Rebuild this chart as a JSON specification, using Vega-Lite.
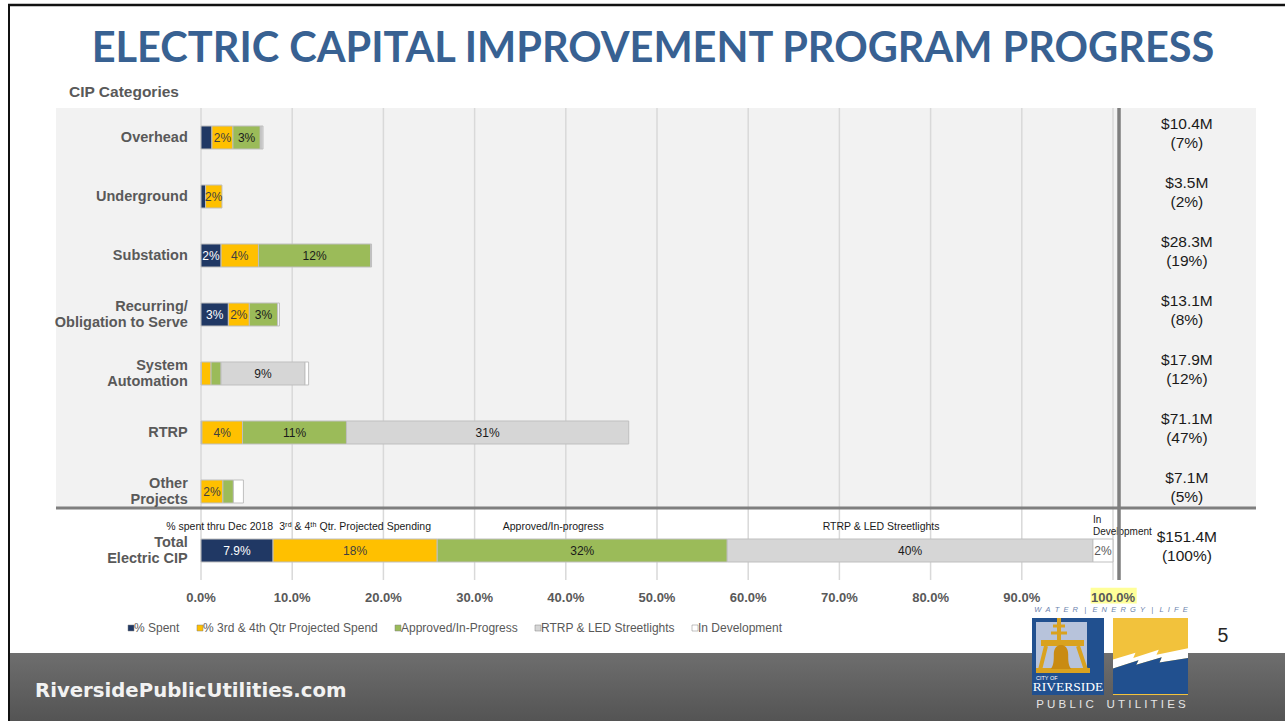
{
  "$schema": "https://vega.github.io/schema/vega-lite/v6.json",
  "width": 1285,
  "height": 472,
  "autosize": {"type": "none"},
  "padding": {"left": 0, "top": 108, "right": 0, "bottom": 141},
  "background": "white",
  "config": {"view": {"stroke": null}, "font": "Liberation Sans"},
  "datasets": {
    "bars": [
      {"cat": "Overhead", "seg": "% Spent", "v": 1.2, "k": 1, "lbl": "", "note": ""},
      {"cat": "Overhead", "seg": "% 3rd & 4th Qtr Projected Spend", "v": 2.3, "k": 2, "lbl": "2%", "note": ""},
      {"cat": "Overhead", "seg": "Approved/In-Progress", "v": 3.0, "k": 3, "lbl": "3%", "note": ""},
      {"cat": "Overhead", "seg": "RTRP & LED Streetlights", "v": 0.2, "k": 4, "lbl": "", "note": ""},
      {"cat": "Overhead", "seg": "In Development", "v": 0.1, "k": 5, "lbl": "", "note": ""},
      {"cat": "Underground", "seg": "% Spent", "v": 0.5, "k": 1, "lbl": "", "note": ""},
      {"cat": "Underground", "seg": "% 3rd & 4th Qtr Projected Spend", "v": 1.8, "k": 2, "lbl": "2%", "note": ""},
      {"cat": "Substation", "seg": "% Spent", "v": 2.2, "k": 1, "lbl": "2%", "note": ""},
      {"cat": "Substation", "seg": "% 3rd & 4th Qtr Projected Spend", "v": 4.1, "k": 2, "lbl": "4%", "note": ""},
      {"cat": "Substation", "seg": "Approved/In-Progress", "v": 12.3, "k": 3, "lbl": "12%", "note": ""},
      {"cat": "Substation", "seg": "RTRP & LED Streetlights", "v": 0.1, "k": 4, "lbl": "", "note": ""},
      {"cat": "Recurring/\nObligation to Serve", "seg": "% Spent", "v": 3.0, "k": 1, "lbl": "3%", "note": ""},
      {"cat": "Recurring/\nObligation to Serve", "seg": "% 3rd & 4th Qtr Projected Spend", "v": 2.3, "k": 2, "lbl": "2%", "note": ""},
      {"cat": "Recurring/\nObligation to Serve", "seg": "Approved/In-Progress", "v": 3.1, "k": 3, "lbl": "3%", "note": ""},
      {"cat": "Recurring/\nObligation to Serve", "seg": "In Development", "v": 0.2, "k": 5, "lbl": "", "note": ""},
      {"cat": "System\nAutomation", "seg": "% Spent", "v": 0.05, "k": 1, "lbl": "", "note": ""},
      {"cat": "System\nAutomation", "seg": "% 3rd & 4th Qtr Projected Spend", "v": 1.05, "k": 2, "lbl": "", "note": ""},
      {"cat": "System\nAutomation", "seg": "Approved/In-Progress", "v": 1.1, "k": 3, "lbl": "", "note": ""},
      {"cat": "System\nAutomation", "seg": "RTRP & LED Streetlights", "v": 9.2, "k": 4, "lbl": "9%", "note": ""},
      {"cat": "System\nAutomation", "seg": "In Development", "v": 0.4, "k": 5, "lbl": "", "note": ""},
      {"cat": "RTRP", "seg": "% Spent", "v": 0.1, "k": 1, "lbl": "", "note": ""},
      {"cat": "RTRP", "seg": "% 3rd & 4th Qtr Projected Spend", "v": 4.45, "k": 2, "lbl": "4%", "note": ""},
      {"cat": "RTRP", "seg": "Approved/In-Progress", "v": 11.4, "k": 3, "lbl": "11%", "note": ""},
      {"cat": "RTRP", "seg": "RTRP & LED Streetlights", "v": 30.95, "k": 4, "lbl": "31%", "note": ""},
      {"cat": "Other\nProjects", "seg": "% 3rd & 4th Qtr Projected Spend", "v": 2.4, "k": 2, "lbl": "2%", "note": ""},
      {"cat": "Other\nProjects", "seg": "Approved/In-Progress", "v": 1.15, "k": 3, "lbl": "", "note": ""},
      {"cat": "Other\nProjects", "seg": "In Development", "v": 1.1, "k": 5, "lbl": "", "note": ""},
      {"cat": "Total\nElectric CIP", "seg": "% Spent", "v": 7.9, "k": 1, "lbl": "7.9%", "note": "% spent thru Dec 2018"},
      {"cat": "Total\nElectric CIP", "seg": "% 3rd & 4th Qtr Projected Spend", "v": 18.0, "k": 2, "lbl": "18%", "note": "3ʳᵈ & 4ᵗʰ Qtr. Projected Spending"},
      {"cat": "Total\nElectric CIP", "seg": "Approved/In-Progress", "v": 31.8, "k": 3, "lbl": "32%", "note": "Approved/In-progress"},
      {"cat": "Total\nElectric CIP", "seg": "RTRP & LED Streetlights", "v": 40.1, "k": 4, "lbl": "40%", "note": "RTRP & LED Streetlights"},
      {"cat": "Total\nElectric CIP", "seg": "In Development", "v": 2.2, "k": 5, "lbl": "2%", "note": "In\nDevelopment"}
    ],
    "rows": [
      {"cat": "Overhead", "amt": "$10.4M\n(7%)"},
      {"cat": "Underground", "amt": "$3.5M\n(2%)"},
      {"cat": "Substation", "amt": "$28.3M\n(19%)"},
      {"cat": "Recurring/\nObligation to Serve", "amt": "$13.1M\n(8%)"},
      {"cat": "System\nAutomation", "amt": "$17.9M\n(12%)"},
      {"cat": "RTRP", "amt": "$71.1M\n(47%)"},
      {"cat": "Other\nProjects", "amt": "$7.1M\n(5%)"},
      {"cat": "Total\nElectric CIP", "amt": "$151.4M\n(100%)"}
    ],
    "ticks": [
      {"t": 0, "lab": "0.0%"}, {"t": 10, "lab": "10.0%"}, {"t": 20, "lab": "20.0%"}, {"t": 30, "lab": "30.0%"},
      {"t": 40, "lab": "40.0%"}, {"t": 50, "lab": "50.0%"}, {"t": 60, "lab": "60.0%"}, {"t": 70, "lab": "70.0%"},
      {"t": 80, "lab": "80.0%"}, {"t": 90, "lab": "90.0%"}, {"t": 100, "lab": "100.0%"}
    ]
  },
  "resolve": {"scale": {"x": "independent", "y": "independent"}},
  "layer": [
    {
      "layer": [
        {
          "data": {"values": [{}]},
          "mark": {"type": "rect", "fill": "#f2f2f2"},
          "encoding": {
            "x": {"datum": -15.9, "type": "quantitative", "scale": {"domain": [-22.04, 118.86], "nice": false, "zero": false}, "axis": null},
            "x2": {"datum": 115.68},
            "y": {"datum": "Overhead", "type": "nominal", "bandPosition": 0, "scale": {"type": "band", "domain": ["Overhead", "Underground", "Substation", "Recurring/\nObligation to Serve", "System\nAutomation", "RTRP", "Other\nProjects", "Total\nElectric CIP"], "paddingInner": 0, "paddingOuter": 0}, "axis": null},
            "y2": {"datum": "Other\nProjects", "bandPosition": 0.78}
          }
        },
        {
          "data": {"values": [{}]},
          "mark": {"type": "rect", "fill": "#ffff99"},
          "encoding": {
            "x": {"datum": 97.55, "type": "quantitative", "axis": null},
            "x2": {"datum": 102.6},
            "y": {"datum": "Total\nElectric CIP", "type": "nominal", "bandPosition": 1.13, "axis": null},
            "y2": {"datum": "Total\nElectric CIP", "bandPosition": 1.4}
          }
        },
        {
          "data": {"name": "ticks"},
          "mark": {"type": "rule", "color": "#d9d9d9", "strokeWidth": 1.5},
          "encoding": {
            "x": {"field": "t", "type": "quantitative", "axis": null}
          }
        },
        {
          "data": {"name": "ticks"},
          "mark": {"type": "text", "fontSize": 13, "fontWeight": "bold", "color": "#595959", "align": "center", "baseline": "middle"},
          "encoding": {
            "x": {"field": "t", "type": "quantitative", "axis": null},
            "y": {"datum": "Total\nElectric CIP", "type": "nominal", "bandPosition": 1.297, "axis": null},
            "text": {"field": "lab"}
          }
        },
        {
          "data": {"name": "bars"},
          "mark": {"type": "bar", "size": 23, "stroke": "#bfbfbf", "strokeWidth": 1},
          "encoding": {
            "y": {"field": "cat", "type": "nominal", "axis": null},
            "x": {"field": "v", "type": "quantitative", "stack": "zero", "axis": null},
            "color": {"field": "seg", "type": "nominal",
              "scale": {"domain": ["% Spent", "% 3rd & 4th Qtr Projected Spend", "Approved/In-Progress", "RTRP & LED Streetlights", "In Development"], "range": ["#203864", "#ffc000", "#9bbb59", "#d6d6d6", "#ffffff"]},
              "legend": {"orient": "none", "legendX": 125, "legendY": 514, "direction": "horizontal", "columns": 5, "title": null, "symbolType": "square", "symbolSize": 36, "symbolStrokeColor": "#808080", "symbolStrokeWidth": 0.5, "labelFontSize": 12, "labelColor": "#595959", "labelFont": "Liberation Sans", "labelOffset": -3, "labelLimit": 400, "columnPadding": 14}},
            "order": {"field": "k", "type": "quantitative"}
          }
        },
        {
          "data": {"name": "bars"},
          "mark": {"type": "text", "fontSize": 12, "baseline": "middle", "align": "center"},
          "encoding": {
            "y": {"field": "cat", "type": "nominal", "axis": null},
            "x": {"field": "v", "type": "quantitative", "stack": "zero", "bandPosition": 0.5, "axis": null},
            "detail": {"field": "seg"},
            "order": {"field": "k", "type": "quantitative"},
            "text": {"field": "lbl"},
            "color": {"condition": [{"test": "datum.seg === '% Spent'", "value": "#ffffff"}, {"test": "datum.seg === '% 3rd & 4th Qtr Projected Spend'", "value": "#404040"}, {"test": "datum.seg === 'In Development'", "value": "#595959"}], "value": "#1a1a1a"}
          }
        },
        {
          "data": {"name": "bars"},
          "mark": {"type": "text", "fontSize": 10.5, "baseline": "middle", "align": "right", "dy": -24, "color": "#1a1a1a"},
          "encoding": {
            "y": {"field": "cat", "type": "nominal", "axis": null},
            "x": {"field": "v", "type": "quantitative", "stack": "zero", "bandPosition": 1, "axis": null},
            "detail": {"field": "seg"},
            "order": {"field": "k", "type": "quantitative"},
            "text": {"condition": {"test": "datum.k !== 1", "value": ""}, "field": "note"}
          }
        },
        {
          "data": {"name": "bars"},
          "mark": {"type": "text", "fontSize": 10.5, "baseline": "middle", "align": "center", "dy": -24, "color": "#1a1a1a"},
          "encoding": {
            "y": {"field": "cat", "type": "nominal", "axis": null},
            "x": {"field": "v", "type": "quantitative", "stack": "zero", "bandPosition": 0.5, "axis": null},
            "detail": {"field": "seg"},
            "order": {"field": "k", "type": "quantitative"},
            "text": {"condition": {"test": "datum.k !== 2", "value": ""}, "field": "note"}
          }
        },
        {
          "data": {"name": "bars"},
          "mark": {"type": "text", "fontSize": 10.5, "baseline": "middle", "align": "center", "dy": -24, "dx": -29, "color": "#1a1a1a"},
          "encoding": {
            "y": {"field": "cat", "type": "nominal", "axis": null},
            "x": {"field": "v", "type": "quantitative", "stack": "zero", "bandPosition": 0.5, "axis": null},
            "detail": {"field": "seg"},
            "order": {"field": "k", "type": "quantitative"},
            "text": {"condition": {"test": "datum.k !== 3 && datum.k !== 4", "value": ""}, "field": "note"}
          }
        },
        {
          "data": {"name": "bars"},
          "mark": {"type": "text", "fontSize": 10, "baseline": "middle", "align": "left", "dy": -31, "lineBreak": "\n", "lineHeight": 12, "color": "#1a1a1a"},
          "encoding": {
            "y": {"field": "cat", "type": "nominal", "axis": null},
            "x": {"field": "v", "type": "quantitative", "stack": "zero", "bandPosition": 0, "axis": null},
            "detail": {"field": "seg"},
            "order": {"field": "k", "type": "quantitative"},
            "text": {"condition": {"test": "datum.k !== 5", "value": ""}, "field": "note"}
          }
        },
        {
          "data": {"values": [{}]},
          "mark": {"type": "rule", "color": "#7f7f7f", "strokeWidth": 3},
          "encoding": {
            "x": {"datum": -15.9, "type": "quantitative", "axis": null},
            "x2": {"datum": 115.68},
            "y": {"datum": "Other\nProjects", "type": "nominal", "bandPosition": 0.78, "axis": null}
          }
        },
        {
          "data": {"values": [{}]},
          "mark": {"type": "rule", "color": "#7f7f7f", "strokeWidth": 3.5},
          "encoding": {
            "x": {"datum": 100.66, "type": "quantitative", "axis": null}
          }
        },
        {
          "data": {"name": "rows"},
          "transform": [{"filter": "indexof(datum.cat, '\\n') < 0"}],
          "mark": {"type": "text", "align": "right", "baseline": "middle", "fontSize": 14.5, "fontWeight": "bold", "color": "#595959"},
          "encoding": {
            "x": {"datum": -1.45, "type": "quantitative", "axis": null},
            "y": {"field": "cat", "type": "nominal", "axis": null},
            "text": {"field": "cat"}
          }
        },
        {
          "data": {"name": "rows"},
          "transform": [{"filter": "indexof(datum.cat, '\\n') >= 0"}],
          "mark": {"type": "text", "align": "right", "baseline": "middle", "fontSize": 14.5, "fontWeight": "bold", "color": "#595959", "lineBreak": "\n", "lineHeight": 16, "dy": -8},
          "encoding": {
            "x": {"datum": -1.45, "type": "quantitative", "axis": null},
            "y": {"field": "cat", "type": "nominal", "axis": null},
            "text": {"field": "cat"}
          }
        },
        {
          "data": {"name": "rows"},
          "mark": {"type": "text", "align": "center", "baseline": "middle", "fontSize": 15.5, "color": "#1a1a1a", "lineBreak": "\n", "lineHeight": 19.5, "dy": -14},
          "encoding": {
            "x": {"datum": 108.1, "type": "quantitative", "axis": null},
            "y": {"field": "cat", "type": "nominal", "axis": null},
            "text": {"field": "amt"}
          }
        },
        {
          "data": {"values": [{}]},
          "mark": {"type": "text", "align": "left", "baseline": "middle", "fontSize": 15.5, "fontWeight": "bold", "color": "#595959", "text": "CIP Categories"},
          "encoding": {
            "x": {"datum": -14.48, "type": "quantitative", "axis": null},
            "y": {"datum": "Overhead", "type": "nominal", "bandPosition": -0.263, "axis": null}
          }
        }
      ]
    },
    {
      "data": {"values": [{}]},
      "layer": [
        {
          "mark": {"type": "rect", "fill": {"gradient": "linear", "x1": 0, "y1": 0, "x2": 0, "y2": 1, "stops": [{"offset": 0, "color": "#6e6e6e"}, {"offset": 1, "color": "#545454"}]}},
          "encoding": {
            "x": {"datum": 10, "type": "quantitative", "scale": {"domain": [0, 1285], "nice": false, "zero": false}, "axis": null},
            "x2": {"datum": 1285},
            "y": {"datum": 653, "type": "quantitative", "scale": {"domain": [108, 580], "nice": false, "zero": false, "reverse": true}, "axis": null},
            "y2": {"datum": 721}
          }
        },
        {
          "mark": {"type": "text", "text": "ELECTRIC CAPITAL IMPROVEMENT PROGRAM PROGRESS", "font": "Lato", "fontSize": 41.5, "fontWeight": "bold", "color": "#386192", "align": "center", "baseline": "alphabetic"},
          "encoding": {"x": {"datum": 653, "type": "quantitative", "axis": null}, "y": {"datum": 62, "type": "quantitative", "axis": null}}
        },
        {
          "mark": {"type": "text", "text": "RiversidePublicUtilities.com", "font": "DejaVu Sans", "fontWeight": "bold", "fontSize": 19.7, "color": "#f2f2f2", "align": "left", "baseline": "alphabetic"},
          "encoding": {"x": {"datum": 35, "type": "quantitative", "axis": null}, "y": {"datum": 697, "type": "quantitative", "axis": null}}
        },
        {
          "mark": {"type": "rule", "color": "#111111", "strokeWidth": 2.5},
          "encoding": {"x": {"datum": 8, "type": "quantitative", "axis": null}, "x2": {"datum": 1285}, "y": {"datum": 5, "type": "quantitative", "axis": null}}
        },
        {
          "mark": {"type": "rule", "color": "#111111", "strokeWidth": 2},
          "encoding": {"x": {"datum": 9, "type": "quantitative", "axis": null}, "y": {"datum": 5, "type": "quantitative", "axis": null}, "y2": {"datum": 721}}
        },
        {
          "mark": {"type": "text", "text": "5", "fontSize": 19.5, "color": "#262626", "align": "center", "baseline": "middle"},
          "encoding": {"x": {"datum": 1223, "type": "quantitative", "axis": null}, "y": {"datum": 636, "type": "quantitative", "axis": null}}
        },
        {
          "mark": {"type": "text", "text": "W\u00a0\u00a0A\u00a0\u00a0T\u00a0\u00a0E\u00a0\u00a0R\u00a0\u00a0\u00a0|\u00a0\u00a0\u00a0E\u00a0\u00a0N\u00a0\u00a0E\u00a0\u00a0R\u00a0\u00a0G\u00a0\u00a0Y\u00a0\u00a0\u00a0|\u00a0\u00a0\u00a0L\u00a0\u00a0I\u00a0\u00a0F\u00a0\u00a0E", "fontSize": 7.5, "fontStyle": "italic", "color": "#6c83ad", "align": "center", "baseline": "middle"},
          "encoding": {"x": {"datum": 1111, "type": "quantitative", "axis": null}, "y": {"datum": 610, "type": "quantitative", "axis": null}}
        },
        {
          "mark": {"type": "rect", "fill": "#21508f"},
          "encoding": {"x": {"datum": 1032, "type": "quantitative", "axis": null}, "x2": {"datum": 1104}, "y": {"datum": 618, "type": "quantitative", "axis": null}, "y2": {"datum": 695}}
        },
        {
          "mark": {"type": "rect", "fill": "#b7c3db"},
          "encoding": {"x": {"datum": 1036, "type": "quantitative", "axis": null}, "x2": {"datum": 1087}, "y": {"datum": 622, "type": "quantitative", "axis": null}, "y2": {"datum": 672}}
        },
        {
          "mark": {"type": "rule", "color": "#d9a21f", "strokeWidth": 4},
          "encoding": {"x": {"datum": 1059, "type": "quantitative", "axis": null}, "y": {"datum": 618, "type": "quantitative", "axis": null}, "y2": {"datum": 641}}
        },
        {
          "mark": {"type": "rule", "color": "#d9a21f", "strokeWidth": 3},
          "encoding": {"x": {"datum": 1053, "type": "quantitative", "axis": null}, "x2": {"datum": 1065}, "y": {"datum": 626, "type": "quantitative", "axis": null}}
        },
        {
          "mark": {"type": "rule", "color": "#d9a21f", "strokeWidth": 3},
          "encoding": {"x": {"datum": 1051, "type": "quantitative", "axis": null}, "x2": {"datum": 1067}, "y": {"datum": 633, "type": "quantitative", "axis": null}}
        },
        {
          "mark": {"type": "rect", "fill": "#d9a21f"},
          "encoding": {"x": {"datum": 1041, "type": "quantitative", "axis": null}, "x2": {"datum": 1084}, "y": {"datum": 640, "type": "quantitative", "axis": null}, "y2": {"datum": 646}}
        },
        {
          "mark": {"type": "rule", "color": "#d9a21f", "strokeWidth": 4},
          "encoding": {"x": {"datum": 1046, "type": "quantitative", "axis": null}, "x2": {"datum": 1040}, "y": {"datum": 646, "type": "quantitative", "axis": null}, "y2": {"datum": 670}}
        },
        {
          "mark": {"type": "rule", "color": "#d9a21f", "strokeWidth": 4},
          "encoding": {"x": {"datum": 1078, "type": "quantitative", "axis": null}, "x2": {"datum": 1086}, "y": {"datum": 646, "type": "quantitative", "axis": null}, "y2": {"datum": 670}}
        },
        {
          "mark": {"type": "rect", "fill": "#d9a21f"},
          "encoding": {"x": {"datum": 1036, "type": "quantitative", "axis": null}, "x2": {"datum": 1090}, "y": {"datum": 668, "type": "quantitative", "axis": null}, "y2": {"datum": 673}}
        },
        {
          "mark": {"type": "point", "shape": "M -0.85 1 C -0.6 0.7 -0.6 0.3 -0.6 -0.2 C -0.6 -0.8 -0.3 -1 0 -1 C 0.3 -1 0.6 -0.8 0.6 -0.2 C 0.6 0.3 0.6 0.7 0.85 1 Z", "filled": true, "fill": "#c98b12", "opacity": 1, "size": 576, "strokeWidth": 0},
          "encoding": {"x": {"datum": 1061, "type": "quantitative", "axis": null}, "y": {"datum": 657, "type": "quantitative", "axis": null}}
        },
        {
          "mark": {"type": "text", "text": "CITY OF", "fontSize": 5.5, "color": "#ffffff", "align": "left", "baseline": "middle"},
          "encoding": {"x": {"datum": 1036, "type": "quantitative", "axis": null}, "y": {"datum": 678, "type": "quantitative", "axis": null}}
        },
        {
          "mark": {"type": "text", "text": "RIVERSIDE", "font": "Liberation Serif", "fontSize": 13.5, "color": "#ffffff", "align": "center", "baseline": "middle"},
          "encoding": {"x": {"datum": 1068, "type": "quantitative", "axis": null}, "y": {"datum": 687, "type": "quantitative", "axis": null}}
        },
        {
          "mark": {"type": "rect", "fill": "#f2c23c"},
          "encoding": {"x": {"datum": 1113, "type": "quantitative", "axis": null}, "x2": {"datum": 1188}, "y": {"datum": 618, "type": "quantitative", "axis": null}, "y2": {"datum": 695}}
        },
        {
          "mark": {"type": "point", "shape": "M -1 0.08 L -0.4 -0.1 L -0.46 0.04 L 0.22 -0.18 L 0.16 -0.05 L 1 -0.22 L 1 0.04 L 0.24 0.16 L 0.3 0.02 L -0.38 0.22 L -0.32 0.1 L -1 0.32 Z", "filled": true, "fill": "#ffffff", "opacity": 1, "size": 5625, "strokeWidth": 0},
          "encoding": {"x": {"datum": 1150.5, "type": "quantitative", "axis": null}, "y": {"datum": 656.5, "type": "quantitative", "axis": null}}
        },
        {
          "mark": {"type": "point", "shape": "M -1 0.32 L -0.32 0.1 L -0.38 0.22 L 0.3 0.02 L 0.24 0.16 L 1 0.04 L 1 1 L -1 1 Z", "filled": true, "fill": "#21508f", "opacity": 1, "size": 5625, "strokeWidth": 0},
          "encoding": {"x": {"datum": 1150.5, "type": "quantitative", "axis": null}, "y": {"datum": 656.5, "type": "quantitative", "axis": null}}
        },
        {
          "mark": {"type": "text", "text": "P\u00a0U\u00a0B\u00a0L\u00a0I\u00a0C\u00a0\u00a0\u00a0\u00a0U\u00a0T\u00a0I\u00a0L\u00a0I\u00a0T\u00a0I\u00a0E\u00a0S", "fontSize": 11.5, "color": "#e6e6e6", "align": "center", "baseline": "middle"},
          "encoding": {"x": {"datum": 1111, "type": "quantitative", "axis": null}, "y": {"datum": 705, "type": "quantitative", "axis": null}}
        }
      ]
    }
  ]
}
